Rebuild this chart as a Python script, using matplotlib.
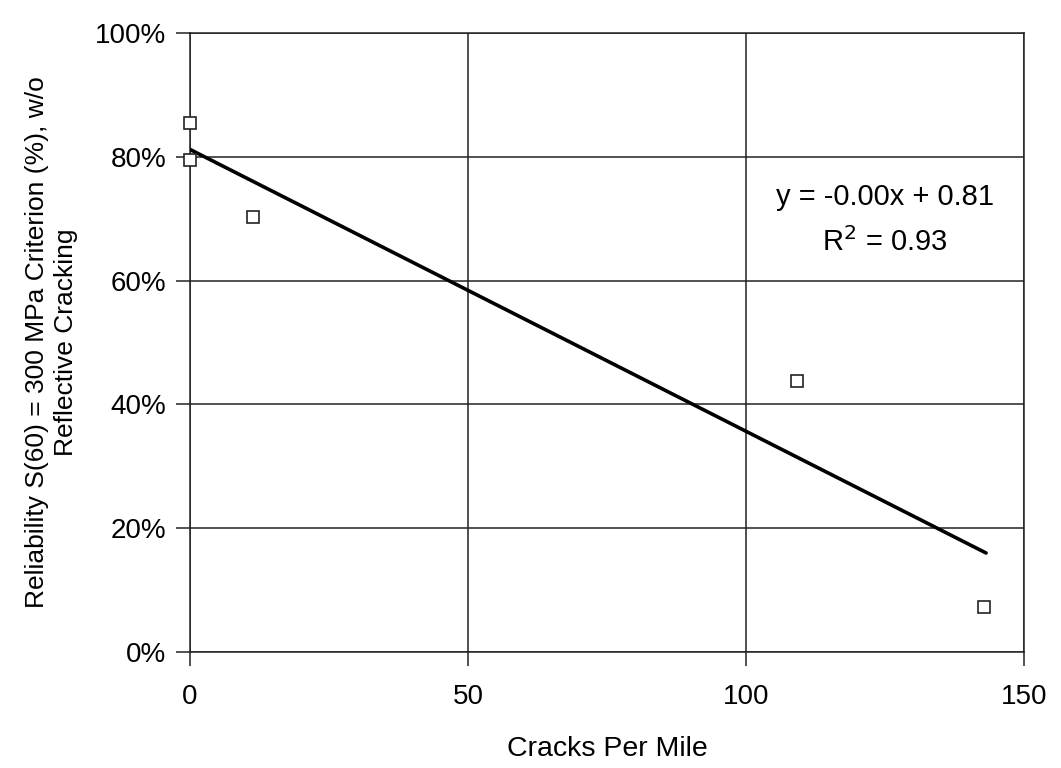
import numpy as np
import matplotlib
matplotlib.use("Agg")
import matplotlib.pyplot as plt
from matplotlib.ticker import PercentFormatter

plt.rcParams['font.family'] = ['Liberation Sans', 'DejaVu Sans']

# data
cracks = [0, 0, 11.3, 109.2, 142.9]
reliability = [0.855, 0.795, 0.703, 0.438, 0.073]
# trendline (y = -0.00x + 0.81), endpoints
trend_x = [0, 143.2]
trend_y = [0.812, 0.160]
x_ticks = [0, 50, 100, 150]
y_ticks = [0, 0.2, 0.4, 0.6, 0.8, 1.0]

fig = plt.figure(figsize=(10.61, 7.68), dpi=100)
ax = fig.add_axes([0.179, 0.151, 0.786, 0.806])

ax.plot(trend_x, trend_y, color='black', lw=2.6, solid_capstyle='round', zorder=3)
ax.plot(cracks, reliability, ls='none', marker='s', ms=8.5, mfc='white',
        mec='#222222', mew=1.2, zorder=4, clip_on=False)

ax.set_xlim(0, 150)
ax.set_ylim(0, 1.0)
ax.set_xticks(x_ticks)
ax.set_yticks(y_ticks)
ax.yaxis.set_major_formatter(PercentFormatter(1.0, decimals=0))
ax.grid(True, color='#222222', lw=1.1)
ax.set_axisbelow(True)
for s in ax.spines.values():
    s.set_color('#222222')
    s.set_linewidth(1.1)
ax.tick_params(direction='out', length=10, width=1.1, color='#222222',
               labelsize=20)
ax.tick_params(axis='x', pad=13)
ax.tick_params(axis='y', pad=7)

ax.set_xlabel("Cracks Per Mile", fontsize=20.5, labelpad=19)
ax.set_ylabel("Reliability S(60) = 300 MPa Criterion (%), w/o\nReflective Cracking",
              fontsize=19, labelpad=12, linespacing=1.3)

ax.text(0.833, 0.698, "y = -0.00x + 0.81\nR$^2$ = 0.93", transform=ax.transAxes,
        ha='center', va='center', fontsize=21, linespacing=1.65)

fig.savefig("out.png", dpi=100, facecolor='white')
